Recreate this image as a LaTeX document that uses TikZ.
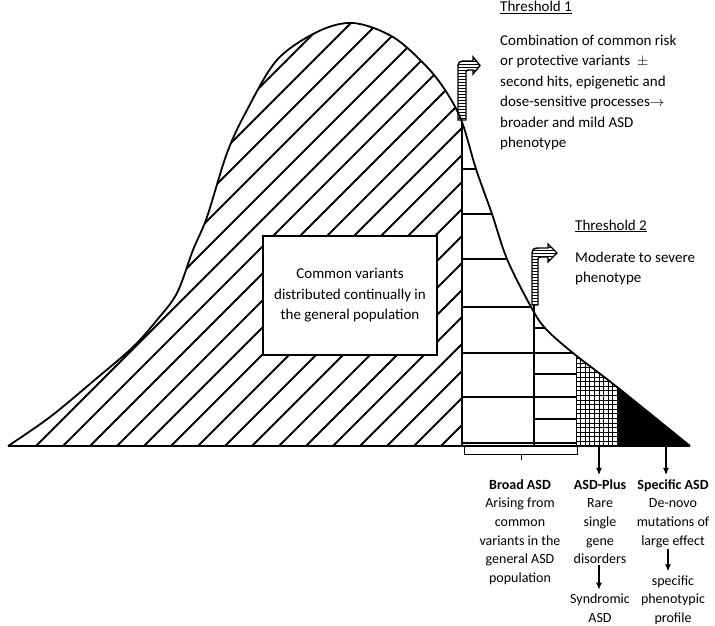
\documentclass[tikz,border=0pt]{standalone}
\usepackage{fontspec}
\setmainfont{Carlito}
\usepackage{tikz}
\usetikzlibrary{patterns,arrows.meta}

\def\bellcurve{plot[smooth,tension=0.55] coordinates {(8,446) (50,417) (97,378) (133,347) (157,320) (177,293) (193,250) (207,217) (227,153) (247,110) (277,60) (317,32) (353,23) (393,37) (427,67) (447,93) (462,122) (476,169) (492,214) (507,259) (530,305) (545,328) (573,353) (617,387) (690,446)}}

\begin{document}
\begin{tikzpicture}[x=1pt,y=-1pt,>={Latex[length=7pt,width=6pt]},
   txt/.style={font=\fontsize{15}{20.5}\selectfont,inner sep=0pt},
   lbl/.style={font=\fontsize{14}{18.7}\selectfont,align=center,inner sep=0pt}]

\tikzstyle {downarrow} = [->, line width=1.1pt, shorten >=4pt, shorten <=1pt];

\useasboundingbox (0,0) rectangle (715,626);

% common variants, hatched
\begin{scope}
\clip \bellcurve -- cycle;
\clip (0,0) rectangle (462,450);
\foreach \i in {-450,-423,...,470}
  \draw[line width=1.8pt] (\i,446) -- ++(460,-460);
\end{scope}

% broad ASD rows
\begin{scope}
\clip \bellcurve -- cycle;
\foreach \y in {169,214,259,307,353,397,443}
  \draw[line width=2.4pt] (462,\y) -- (534,\y);
\foreach \y in {328,353,374,397,419,443}
  \draw[line width=1.6pt] (534,\y) -- (576,\y);
\end{scope}

% ASD-Plus grid
\begin{scope}
\clip \bellcurve -- cycle;
\clip (576,300) rectangle (617,446);
\foreach \x in {576,580.6,...,620}
  \draw[line width=0.7pt] (\x,300) -- (\x,446);
\foreach \y in {446,441.4,...,300}
  \draw[line width=0.7pt] (576,\y) -- (617,\y);
\end{scope}

% specific ASD
\begin{scope}
\clip \bellcurve -- cycle;
\fill (617,300) rectangle (700,450);
\end{scope}

\draw[line width=1.8pt] \bellcurve;
\draw[line width=2pt] (8,446) -- (690,446);
\draw[line width=2.6pt] (462,122) -- (462,446);
\draw[line width=2.6pt] (534,305) -- (534,446);

\node[txt, draw, fill=white, line width=2pt, align=center,
  minimum width=174, minimum height=119] (common) at (350,295.5)
  {Common variants\\distributed continually in\\the general population};

% threshold arrows
\draw[line width=1.4pt, pattern=horizontal lines] (458,120) -- (458,71)
  .. controls (458,61) .. (468,61) -- (473,61) -- (473,57) -- (480,65.5)
  -- (473,74) -- (473,70) -- (469,70) .. controls (466,70) .. (466,74)
  -- (466,120) -- cycle;
\draw[line width=1.4pt, pattern=horizontal lines] (532,305) -- (532,258)
  .. controls (532,248) .. (542,248) -- (548,248) -- (548,244) -- (557,253)
  -- (548,262) -- (548,257) -- (543,257) .. controls (538,257) .. (538,261)
  -- (538,305) -- cycle;

% texts (base = last line)
\node[txt, anchor=base west] (th1) at (500,12) {\underline{Threshold 1}};
\node[txt, anchor=base west, align=left] (th1text) at (500,147.5)
  {Combination of common risk\\or protective variants \ $\pm$\\second hits, epigenetic and\\dose-sensitive processes$\rightarrow$\\broader and mild ASD\\phenotype};
\node[txt, anchor=base west] (th2) at (575,230) {\underline{Threshold 2}};
\node[txt, anchor=base west, align=left] (th2text) at (575,282.5)
  {Moderate to severe\\phenotype};

% brace under broad ASD
\draw[line width=0.8pt] (464,447) -- (464,454) -- (577,454) -- (577,447);
\draw[line width=0.8pt] (521,454) -- (521,460);

\node[lbl, anchor=base] (broad) at (520,582.5)
  {\textbf{Broad ASD}\\Arising from\\common\\variants in the\\general ASD\\population};
\node[lbl, anchor=base] (plus) at (600,563.8)
  {\textbf{ASD-Plus}\\Rare\\single\\gene\\disorders};
\node[lbl, anchor=base] (synd) at (600,622.2) {Syndromic\\ASD};
\node[lbl, anchor=base] (spec) at (673,545.1)
  {\textbf{Specific ASD}\\De-novo\\mutations of\\large effect};
\node[lbl, anchor=base] (prof) at (673,622.6) {specific\\phenotypic\\profile};

\coordinate (plusfoot) at (599,446);
\coordinate (specfoot) at (666,446);

\path (plusfoot) edge [downarrow] (plus.north -| plusfoot);
\path (specfoot) edge [downarrow] (spec.north -| specfoot);
\path (plus.south -| plusfoot) edge [downarrow] (synd.north -| plusfoot);
\path (spec.south -| 668,0) edge [downarrow] (prof.north -| 668,0);

\end{tikzpicture}
\end{document}
